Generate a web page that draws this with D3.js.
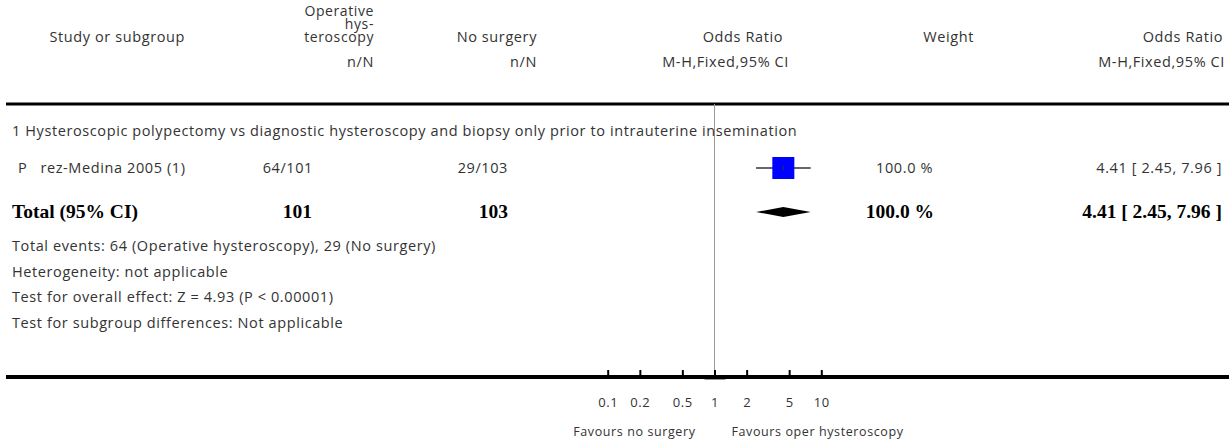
<!DOCTYPE html>
<html>
<head>
<meta charset="utf-8">
<script src="https://cdn.jsdelivr.net/npm/d3@7"></script>
<style>
  body { margin: 0; background: #fff; }
  text { font-family: "Open Sans", Lato, sans-serif; fill: #333; white-space: pre; letter-spacing: 0.6px; }
  .bold { font-family: "Liberation Serif", "Times New Roman", serif; font-weight: bold; fill: #000; letter-spacing: 0; }
</style>
</head>
<body>
<div id="viz"></div>
<script>
const width = 1229;
const height = 443;

// Data
const studies = ['P   rez-Medina 2005 (1)'];
const eventsExp = [64];
const totalExp = [101];
const eventsCtl = [29];
const totalCtl = [103];
const oddsRatio = [4.41];
const ciLow = [2.45];
const ciHigh = [7.96];
const weights = [100.0];

const pooled = [4.41, 2.45, 7.96]; // estimate, low, high
const pooledTotals = [101, 103];
const pooledWeight = 100.0;

const subgroupTitle = '1 Hysteroscopic polypectomy vs diagnostic hysteroscopy and biopsy only prior to intrauterine insemination';
const footnotes = [
  'Total events: 64 (Operative hysteroscopy), 29 (No surgery)',
  'Heterogeneity: not applicable',
  'Test for overall effect: Z = 4.93 (P < 0.00001)',
  'Test for subgroup differences: Not applicable'
];
const axisTicks = [0.1, 0.2, 0.5, 1, 2, 5, 10];
const favours = ['Favours no surgery', 'Favours oper hysteroscopy'];

const svg = d3.select('#viz')
  .append('svg')
  .attr('width', width)
  .attr('height', height);

const xScale = d3.scaleLog()
  .domain([0.1, 10])
  .range([607.7, 821.3]);

const topLine = 104;
const axisY = 377;
const fs = 14.5;
const fmtCI = (e, l, h) => `${e.toFixed(2)} [ ${l.toFixed(2)}, ${h.toFixed(2)} ]`;

const txt = (x, y, s, anchor, size, cls) => svg.append('text')
  .attr('x', x).attr('y', y)
  .attr('text-anchor', anchor || 'start')
  .attr('font-size', size || fs)
  .attr('class', cls || null)
  .text(s);

// Header
txt(185, 42, 'Study or subgroup', 'end');
txt(374, 16, 'Operative', 'end', 14);
txt(374, 29, 'hys-', 'end', 14);
txt(374, 42, 'teroscopy', 'end', 14);
txt(374, 67, 'n/N', 'end');
txt(537, 42, 'No surgery', 'end');
txt(537, 67, 'n/N', 'end');
txt(783, 42, 'Odds Ratio', 'end');
txt(789, 67, 'M-H,Fixed,95% CI', 'end');
txt(974, 42, 'Weight', 'end');
txt(1223, 42, 'Odds Ratio', 'end');
txt(1225, 67, 'M-H,Fixed,95% CI', 'end');

// Thick rules
svg.append('line')
  .attr('x1', 6).attr('x2', width)
  .attr('y1', topLine).attr('y2', topLine)
  .attr('stroke', '#000').attr('stroke-width', 3);

// Line of no effect
svg.append('line')
  .attr('x1', xScale(1)).attr('x2', xScale(1))
  .attr('y1', topLine).attr('y2', axisY)
  .attr('stroke', '#999').attr('stroke-width', 1);

// Subgroup
txt(12, 136, subgroupTitle);

// Study rows
const rowY = 168;
studies.forEach((s, i) => {
  const y = rowY + i * 40;
  txt(18, y + 5, s);
  txt(313, y + 5, `${eventsExp[i]}/${totalExp[i]}`, 'end');
  txt(508, y + 5, `${eventsCtl[i]}/${totalCtl[i]}`, 'end');
  txt(933, y + 5, `${weights[i].toFixed(1)} %`, 'end');
  txt(1222, y + 5, fmtCI(oddsRatio[i], ciLow[i], ciHigh[i]), 'end');

  svg.append('line')
    .attr('x1', xScale(ciLow[i])).attr('x2', xScale(ciHigh[i]))
    .attr('y1', y).attr('y2', y)
    .attr('stroke', '#666').attr('stroke-width', 2);
  const side = 22 * Math.sqrt(weights[i] / 100);
  svg.append('rect')
    .attr('x', xScale(oddsRatio[i]) - side / 2)
    .attr('y', y - side / 2)
    .attr('width', side).attr('height', side)
    .attr('fill', '#0000ff');
  svg.append('line')
    .attr('x1', xScale(oddsRatio[i])).attr('x2', xScale(oddsRatio[i]))
    .attr('y1', y - 2).attr('y2', y + 2)
    .attr('stroke', '#333').attr('stroke-width', 1);
});

// Total row
const totY = 212;
txt(12, totY + 6, 'Total (95% CI)', 'start', 19.5, 'bold');
txt(312, totY + 6, pooledTotals[0], 'end', 19.5, 'bold');
txt(508, totY + 6, pooledTotals[1], 'end', 19.5, 'bold');
txt(934, totY + 6, `${pooledWeight.toFixed(1)} %`, 'end', 19.5, 'bold');
txt(1222, totY + 6, fmtCI(pooled[0], pooled[1], pooled[2]), 'end', 19.5, 'bold');

const diamond = [
  [xScale(pooled[1]), totY],
  [xScale(pooled[0]), totY - 5],
  [xScale(pooled[2]), totY],
  [xScale(pooled[0]), totY + 5]
];
svg.append('path')
  .attr('d', d3.line()(diamond) + 'Z')
  .attr('fill', '#000');

// Footnotes
footnotes.forEach((f, i) => {
  txt(12, 251 + i * 25.6, f);
});

// Bottom axis
svg.append('line')
  .attr('x1', 6).attr('x2', width)
  .attr('y1', axisY).attr('y2', axisY)
  .attr('stroke', '#000').attr('stroke-width', 4);

svg.append('line')
  .attr('x1', xScale(1) - 10).attr('x2', xScale(1) + 11)
  .attr('y1', axisY + 2.5).attr('y2', axisY + 2.5)
  .attr('stroke', '#999').attr('stroke-width', 1);

const tickAxis = svg.append('g')
  .attr('transform', `translate(0, ${axisY - 1})`)
  .call(d3.axisTop(xScale).tickValues(axisTicks).tickSize(6).tickFormat(''));
tickAxis.select('.domain').remove();
tickAxis.selectAll('.tick line').attr('stroke', '#000').attr('stroke-width', 2);

const labelAxis = svg.append('g')
  .attr('transform', `translate(0, ${axisY})`)
  .call(d3.axisBottom(xScale).tickValues(axisTicks).tickSize(0).tickPadding(21)
    .tickFormat(d3.format('~g')));
labelAxis.select('.domain').remove();
labelAxis.selectAll('.tick text')
  .attr('font-size', 13)
  .attr('font-family', '"Open Sans", Lato, sans-serif')
  .attr('fill', '#333');

txt(xScale(1) - 19, 436, favours[0], 'end', 12.5);
txt(xScale(1) + 17, 436, favours[1], 'start', 12.5);
</script>
</body>
</html>
